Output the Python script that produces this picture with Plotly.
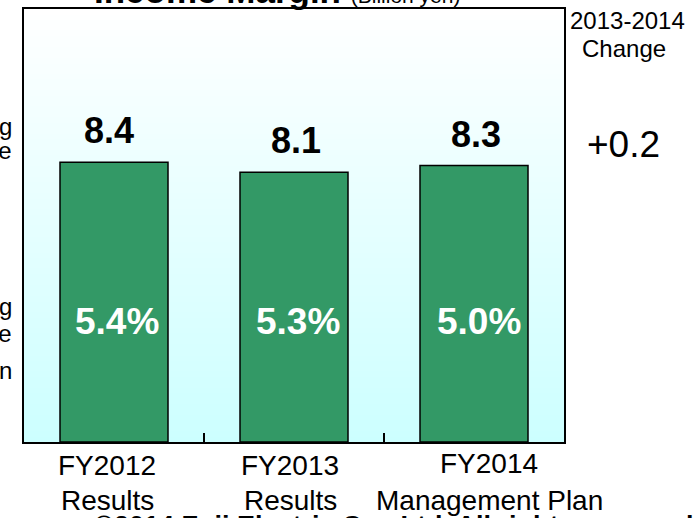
import plotly.graph_objects as go

# ---- data ----
categories = ["FY2012", "FY2013", "FY2014"]
category_sub = ["Results", "Results", "Management Plan"]
income = [8.4, 8.1, 8.3]            # Billion yen
margin_pct = ["5.4%", "5.3%", "5.0%"]
change_header = ["2013-2014", "Change"]
title_main = "Income Margin"
title_unit = "(Billion yen)"
footer = "\u00a92014 Fuji Electric Co., Ltd. All rights reserved."
left_frag_1 = ["Operating", "Income"]
left_frag_2 = ["Operating", "Income", "Margin"]

change_val = income[2] - income[1]
change_txt = f"{change_val:+.1f}"

W, H = 693, 518
L, R, T, B = 24, 129, 7, 76
PW = W - L - R
PH = H - T - B

def px_x(px):
    return (px - L) / PW

FONT = "Liberation Sans, Arial, sans-serif"
GREEN = "#339966"

fig = go.Figure()
fig.add_trace(go.Bar(
    x=categories, y=income,
    marker=dict(color=GREEN, line=dict(color="black", width=1.5)),
    width=0.6, hoverinfo="skip", showlegend=False,
))

shapes = []
# vertical gradient background (white -> light cyan)
N = 80
for i in range(N):
    f0, f1 = i / N, (i + 1) / N
    t = (f0 + f1) / 2
    r = round(204 + (255 - 204) * t)
    shapes.append(dict(type="rect", xref="x domain", yref="y domain",
                       x0=0, x1=1, y0=f0, y1=f1 + 0.002,
                       fillcolor=f"rgb({r},255,255)", line=dict(width=0),
                       layer="below"))

ann = []
xs_label = [-7, -4, 15]
ys_fy = [465, 465, 463]
xs_val = [-5, 2, 2]
xs_pct = [3, 4, 5]
for i, c in enumerate(categories):
    ann.append(dict(x=c, y=0, xref="x", yref="paper", text=c, showarrow=False,
                    xanchor="center", yanchor="middle", xshift=xs_label[i], yshift=-(ys_fy[i] - 442),
                    font=dict(family=FONT, size=28, color="black")))
    ann.append(dict(x=c, y=0, xref="x", yref="paper", text=category_sub[i], showarrow=False,
                    xanchor="center", yanchor="middle", xshift=xs_label[i], yshift=-(500 - 442),
                    font=dict(family=FONT, size=28, color="black")))
    # value label above bar
    ann.append(dict(x=c, y=income[i], xref="x", yref="y", text=f"<b>{income[i]:.1f}</b>",
                    showarrow=False, xanchor="center", yanchor="bottom", yshift=9,
                    xshift=xs_val[i],
                    font=dict(family=FONT, size=36, color="black")))
    # margin label inside bar
    ann.append(dict(x=c, y=(442 - 321) / PH, xref="x", yref="paper", text=f"<b>{margin_pct[i]}</b>",
                    showarrow=False, xanchor="center", yanchor="middle", xshift=xs_pct[i],
                    font=dict(family=FONT, size=37, color="white")))

# right side change column
ann.append(dict(x=px_x(627), y=1, xref="paper", yref="paper", text=change_header[0],
                showarrow=False, xanchor="center", yanchor="middle", yshift=-(18 - T),
                font=dict(family=FONT, size=24, color="black")))
ann.append(dict(x=px_x(624), y=1, xref="paper", yref="paper", text=change_header[1],
                showarrow=False, xanchor="center", yanchor="middle", yshift=-(46 - T),
                font=dict(family=FONT, size=24, color="black")))
ann.append(dict(x=px_x(623), y=1, xref="paper", yref="paper", text=change_txt,
                showarrow=False, xanchor="center", yanchor="middle", yshift=-(142 - T),
                font=dict(family=FONT, size=37, color="black")))

# title (cut off at top)
ann.append(dict(x=px_x(92), y=1, xref="paper", yref="paper", xanchor="left", yanchor="bottom",
                text=f"<b>{title_main}</b> <span style='font-size:21px'>{title_unit}</span>",
                showarrow=False, yshift=-3,
                font=dict(family=FONT, size=35, color="black")))
# footer (cut off at bottom)
ann.append(dict(x=px_x(92), y=0, xref="paper", yref="paper", xanchor="left", yanchor="top",
                text=f"<b>{footer}</b>", showarrow=False, yshift=-(509 - 442),
                font=dict(family=FONT, size=27, color="black")))

# left side fragments (cut off at left)
for txt, yc in zip(left_frag_1, [124, 148]):
    ann.append(dict(x=px_x(14), y=1, xref="paper", yref="paper", xanchor="right", yanchor="middle",
                    text=txt, showarrow=False, yshift=-(yc - T),
                    font=dict(family=FONT, size=24, color="black")))
for txt, yc in zip(left_frag_2, [304, 331, 368]):
    ann.append(dict(x=px_x(14), y=1, xref="paper", yref="paper", xanchor="right", yanchor="middle",
                    text=txt, showarrow=False, yshift=-(yc - T),
                    font=dict(family=FONT, size=24, color="black")))

fig.update_layout(
    width=W, height=H,
    margin=dict(l=L, r=R, t=T, b=B, pad=0),
    paper_bgcolor="white", plot_bgcolor="white",
    shapes=shapes, annotations=ann,
    bargap=0.4,
    showlegend=False,
    xaxis=dict(range=[-0.5, 2.5], autorange=False, showticklabels=False, ticks="inside",
               tickson="boundaries", ticklen=9,
               tickwidth=1.5, tickcolor="black", showline=True, mirror=True,
               linecolor="black", linewidth=2, showgrid=False, zeroline=False,
               fixedrange=True),
    yaxis=dict(range=[0, 13], autorange=False, showticklabels=False, ticks="", showline=True,
               mirror=True, linecolor="black", linewidth=2, showgrid=False, zeroline=False,
               fixedrange=True),
)

fig.write_html(
    "out.html",
    config={"displayModeBar": False},
    post_script="document.body.style.margin='0';document.body.style.padding='0';"
                "document.documentElement.style.overflow='hidden';",
)
